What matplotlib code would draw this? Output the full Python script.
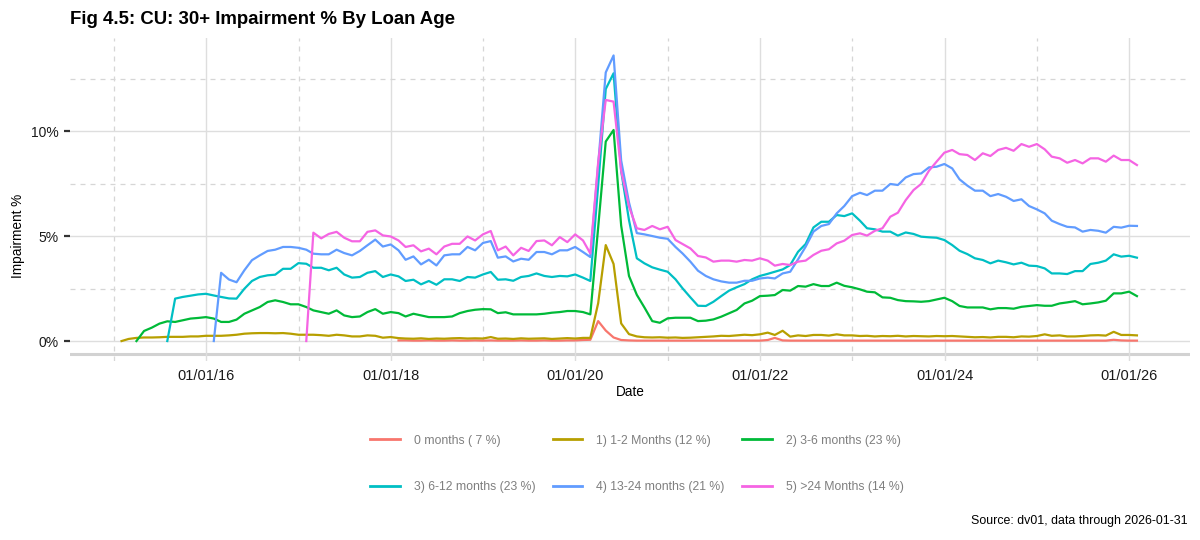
import matplotlib
matplotlib.use("Agg")
import matplotlib.pyplot as plt
import matplotlib.dates as mdates
from matplotlib.ticker import FixedLocator, FuncFormatter
import pandas as pd

plt.rcParams['font.family'] = ['Liberation Sans', 'DejaVu Sans']

# monthly observations, month-end
months = pd.date_range("2015-01-31", "2026-01-31", freq="ME")

labels = ["0 months ( 7 %)", "1) 1-2 Months (12 %)", "2) 3-6 months (23 %)",
          "3) 6-12 months (23 %)", "4) 13-24 months (21 %)", "5) >24 Months (14 %)"]
colors = ["#F8766D", "#B79F00", "#00BA38", "#00BFC4", "#619CFF", "#F564E3"]

# first month each bucket has data
start_0m = "2018-01-31"
start_1_2m = "2015-01-31"
start_3_6m = "2015-03-31"
start_6_12m = "2015-07-31"
start_13_24m = "2016-01-31"
start_24m = "2017-01-31"

imp_0m = [0.03, 0.03, 0.02, 0.02, 0.03, 0.02, 0.02, 0.03, 0.02, 0.02, 0.03, 0.02,
          0.03, 0.02, 0.02, 0.02, 0.03, 0.02, 0.02, 0.03, 0.02, 0.02, 0.03, 0.03,
          0.05, 0.06, 0.95, 0.5, 0.17, 0.05, 0.03, 0.02, 0.02, 0.02, 0.02, 0.02,
          0.02, 0.02, 0.02, 0.02, 0.02, 0.02, 0.02, 0.02, 0.02, 0.02, 0.02, 0.02,
          0.05, 0.15, 0.03, 0.02, 0.02, 0.02, 0.02, 0.02, 0.02, 0.02, 0.02, 0.02,
          0.02, 0.02, 0.02, 0.02, 0.02, 0.02, 0.02, 0.02, 0.02, 0.02, 0.02, 0.02,
          0.02, 0.02, 0.02, 0.02, 0.02, 0.02, 0.02, 0.02, 0.02, 0.02, 0.02, 0.02,
          0.02, 0.02, 0.02, 0.02, 0.02, 0.02, 0.02, 0.02, 0.02, 0.06, 0.03, 0.02, 0.02]

imp_1_2m = [0.0, 0.1, 0.15, 0.17, 0.17, 0.18, 0.2, 0.2, 0.2, 0.22, 0.22, 0.25,
            0.25, 0.25, 0.27, 0.3, 0.35, 0.37, 0.38, 0.38, 0.37, 0.38, 0.35, 0.3,
            0.3, 0.3, 0.28, 0.25, 0.3, 0.27, 0.22, 0.22, 0.27, 0.25, 0.16, 0.19,
            0.14, 0.12, 0.11, 0.13, 0.1, 0.12, 0.11, 0.13, 0.14, 0.12, 0.13, 0.12,
            0.19, 0.11, 0.12, 0.1, 0.13, 0.11, 0.12, 0.13, 0.1, 0.12, 0.14, 0.12,
            0.15, 0.15, 1.8, 4.57, 3.67, 0.84, 0.33, 0.22, 0.18, 0.17, 0.18, 0.16,
            0.17, 0.15, 0.16, 0.18, 0.2, 0.22, 0.25, 0.24, 0.27, 0.3, 0.28, 0.32,
            0.4, 0.29, 0.49, 0.21, 0.27, 0.24, 0.29, 0.29, 0.26, 0.32, 0.27, 0.27,
            0.24, 0.25, 0.22, 0.24, 0.23, 0.25, 0.22, 0.24, 0.23, 0.22, 0.24, 0.23,
            0.24, 0.22, 0.2, 0.18, 0.19, 0.17, 0.2, 0.2, 0.18, 0.22, 0.21, 0.24,
            0.32, 0.25, 0.27, 0.22, 0.22, 0.24, 0.27, 0.28, 0.26, 0.44, 0.29, 0.29, 0.27]

imp_3_6m = [0.0, 0.48, 0.64, 0.83, 0.94, 0.91, 0.99, 1.07, 1.1, 1.14,
            1.07, 0.91, 0.91, 1.02, 1.3, 1.46, 1.62, 1.86, 1.94, 1.86, 1.75, 1.75,
            1.62, 1.46, 1.38, 1.3, 1.46, 1.22, 1.14, 1.17, 1.38, 1.52, 1.3, 1.38,
            1.33, 1.17, 1.3, 1.22, 1.14, 1.14, 1.14, 1.17, 1.33, 1.43, 1.49, 1.52,
            1.51, 1.33, 1.37, 1.27, 1.27, 1.27, 1.27, 1.3, 1.35, 1.38, 1.43, 1.43,
            1.38, 1.27, 5.4, 9.5, 10.05, 5.5, 3.1, 2.2, 1.6, 0.95, 0.87, 1.08,
            1.11, 1.11, 1.11, 0.95, 0.97, 1.03, 1.16, 1.32, 1.48, 1.79, 1.92, 2.14,
            2.16, 2.19, 2.43, 2.4, 2.62, 2.59, 2.71, 2.62, 2.62, 2.78, 2.63, 2.56,
            2.46, 2.35, 2.32, 2.08, 2.06, 1.95, 1.9, 1.89, 1.87, 1.9, 1.98, 2.06,
            1.9, 1.67, 1.6, 1.6, 1.6, 1.51, 1.57, 1.57, 1.54, 1.63, 1.67, 1.71,
            1.68, 1.68, 1.79, 1.84, 1.9, 1.75, 1.79, 1.84, 1.92, 2.27, 2.27, 2.35, 2.14]

imp_6_12m = [0.0, 2.02, 2.1, 2.16, 2.22, 2.25,
             2.17, 2.1, 2.03, 2.02, 2.49, 2.86, 3.05, 3.13, 3.16, 3.44, 3.44, 3.71,
             3.68, 3.49, 3.49, 3.37, 3.49, 3.17, 3.02, 3.05, 3.25, 3.33, 3.05, 3.17,
             3.08, 2.86, 2.92, 2.7, 2.86, 2.68, 2.94, 2.94, 2.86, 3.05, 3.02, 3.17,
             3.29, 2.92, 2.94, 2.87, 3.05, 3.1, 3.22, 3.1, 3.05, 3.1, 3.08, 3.17,
             3.02, 2.86, 7.4, 12.0, 12.75, 8.1, 5.76, 3.94, 3.7, 3.51, 3.4, 3.3,
             2.94, 2.51, 2.08, 1.68, 1.67, 1.87, 2.14, 2.4, 2.56, 2.71, 2.94, 3.1,
             3.2, 3.3, 3.41, 3.62, 4.25, 4.62, 5.41, 5.68, 5.68, 6.0, 5.95, 6.08,
             5.73, 5.37, 5.32, 5.21, 5.21, 5.02, 5.17, 5.1, 4.97, 4.94, 4.92, 4.81,
             4.57, 4.3, 4.14, 3.94, 3.86, 3.7, 3.83, 3.75, 3.65, 3.73, 3.59, 3.57,
             3.46, 3.22, 3.22, 3.19, 3.33, 3.33, 3.67, 3.73, 3.83, 4.13, 4.02, 4.06, 3.97]

imp_13_24m = [0.0, 3.25, 2.93, 2.8, 3.37, 3.85, 4.08, 4.29, 4.35, 4.48, 4.48, 4.44,
              4.35, 4.16, 4.13, 4.13, 4.35, 4.19, 4.08, 4.29, 4.56, 4.83, 4.5, 4.6,
              4.32, 3.87, 4.03, 3.65, 3.87, 3.6, 4.08, 4.13, 4.13, 4.48, 4.32, 4.67,
              4.76, 3.97, 4.03, 3.79, 3.92, 3.87, 4.24, 4.24, 4.13, 4.32, 4.32, 4.48,
              4.24, 4.0, 8.4, 12.79, 13.6, 8.6, 6.6, 5.14, 5.08, 5.0, 4.92, 4.87,
              4.48, 4.17, 3.78, 3.35, 3.1, 2.94, 2.84, 2.78, 2.78, 2.87, 2.87, 2.98,
              3.02, 2.98, 3.22, 3.3, 3.89, 4.49, 5.21, 5.48, 5.57, 6.08, 6.43, 6.9,
              7.06, 6.95, 7.16, 7.16, 7.48, 7.43, 7.79, 7.95, 7.98, 8.27, 8.3, 8.43,
              8.22, 7.7, 7.4, 7.16, 7.16, 6.9, 7.0, 6.87, 6.67, 6.75, 6.43, 6.27,
              6.08, 5.73, 5.57, 5.44, 5.41, 5.21, 5.29, 5.25, 5.16, 5.44, 5.4, 5.49, 5.48]

imp_24m = [0.0, 5.16, 4.89, 5.1, 5.2, 4.92, 4.75, 4.75, 5.2, 5.27, 5.03, 4.98,
           4.79, 4.48, 4.56, 4.27, 4.4, 4.13, 4.5, 4.63, 4.63, 4.98, 4.79, 5.08,
           5.24, 4.32, 4.5, 4.08, 4.44, 4.29, 4.76, 4.79, 4.56, 4.95, 4.71, 5.08,
           4.79, 4.17, 8.5, 11.48, 11.4, 8.1, 6.4, 5.37, 5.29, 5.48, 5.32, 5.44,
           4.81, 4.62, 4.41, 4.05, 3.98, 3.78, 3.83, 3.83, 3.78, 3.86, 3.83, 3.94,
           3.83, 3.59, 3.67, 3.62, 3.78, 3.83, 4.1, 4.3, 4.37, 4.65, 4.78, 5.05,
           5.13, 5.02, 5.25, 5.37, 5.92, 6.11, 6.71, 7.19, 7.48, 8.11, 8.54, 8.97,
           9.1, 8.9, 8.86, 8.62, 8.94, 8.81, 9.1, 9.2, 9.06, 9.38, 9.25, 9.38,
           9.13, 8.78, 8.7, 8.49, 8.62, 8.46, 8.7, 8.7, 8.54, 8.83, 8.62, 8.62, 8.38]

starts = [start_0m, start_1_2m, start_3_6m, start_6_12m, start_13_24m, start_24m]
values = [imp_0m, imp_1_2m, imp_3_6m, imp_6_12m, imp_13_24m, imp_24m]

fig = plt.figure(figsize=(12, 5.4), dpi=100)
ax = fig.add_axes([70 / 1200, 1 - 361 / 540, 1120 / 1200, 323 / 540])

handles = []
for lab, col, st, vals in zip(labels, colors, starts, values):
    dates = months[months >= pd.Timestamp(st)][:len(vals)]
    ln, = ax.plot(dates, vals, color=col, lw=1.6, label=lab, zorder=3)
    handles.append(ln)

ax.set_xlim(mdates.date2num(pd.Timestamp("2014-07-11")), mdates.date2num(pd.Timestamp("2026-08-29")))
ax.set_ylim(-0.95, 14.43)

ax.xaxis.set_major_locator(mdates.YearLocator(2))
ax.xaxis.set_minor_locator(mdates.YearLocator(1))
ax.xaxis.set_major_formatter(mdates.DateFormatter("%d/%m/%y"))
ax.yaxis.set_major_locator(FixedLocator([0, 5, 10]))
ax.yaxis.set_minor_locator(FixedLocator([2.5, 7.5, 12.5]))
ax.yaxis.set_major_formatter(FuncFormatter(lambda v, p: f"{v:.0f}%"))

ax.grid(which="major", color="#dedede", lw=1.0, zorder=0)
ax.grid(which="minor", color="#d6d6d6", lw=0.9, ls=(0, (4, 4)), zorder=0)
ax.axhline(-0.62, color="#d2d2d2", lw=2.2, zorder=1)

for s in ax.spines.values():
    s.set_visible(False)
ax.tick_params(axis="x", which="both", length=0, pad=6, labelsize=10.5, labelcolor="#1a1a1a")
ax.tick_params(axis="y", which="major", length=4, width=1.6, color="#333333", pad=4,
               labelsize=10, labelcolor="#1a1a1a")
ax.tick_params(axis="y", which="minor", length=0)

fig.text(70 / 1200, 1 - 20 / 540, "Fig 4.5: CU: 30+ Impairment % By Loan Age",
         fontsize=13.4, fontweight="bold", ha="left", va="center")
fig.text(18 / 1200, 1 - 236 / 540, "Impairment %", rotation=90, fontsize=9.8,
         ha="center", va="center")
fig.text(630 / 1200, 1 - 392 / 540, "Date", fontsize=9.8, ha="center", va="center")
fig.text(1188 / 1200, 1 - 521 / 540, "Source: dv01, data through 2026-01-31",
         fontsize=8.9, ha="right", va="center")

order = [0, 3, 1, 4, 2, 5]
leg = fig.legend([handles[i] for i in order], [labels[i] for i in order], ncol=3,
                 loc="center", bbox_to_anchor=(637 / 1200, 1 - 464 / 540), frameon=False,
                 fontsize=8.8, labelspacing=2.85, handlelength=2.4, handletextpad=1.15,
                 columnspacing=1.45, labelcolor="#7f7f7f")
for h in leg.legend_handles:
    h.set_linewidth(2)

fig.savefig("out.png", dpi=100)
